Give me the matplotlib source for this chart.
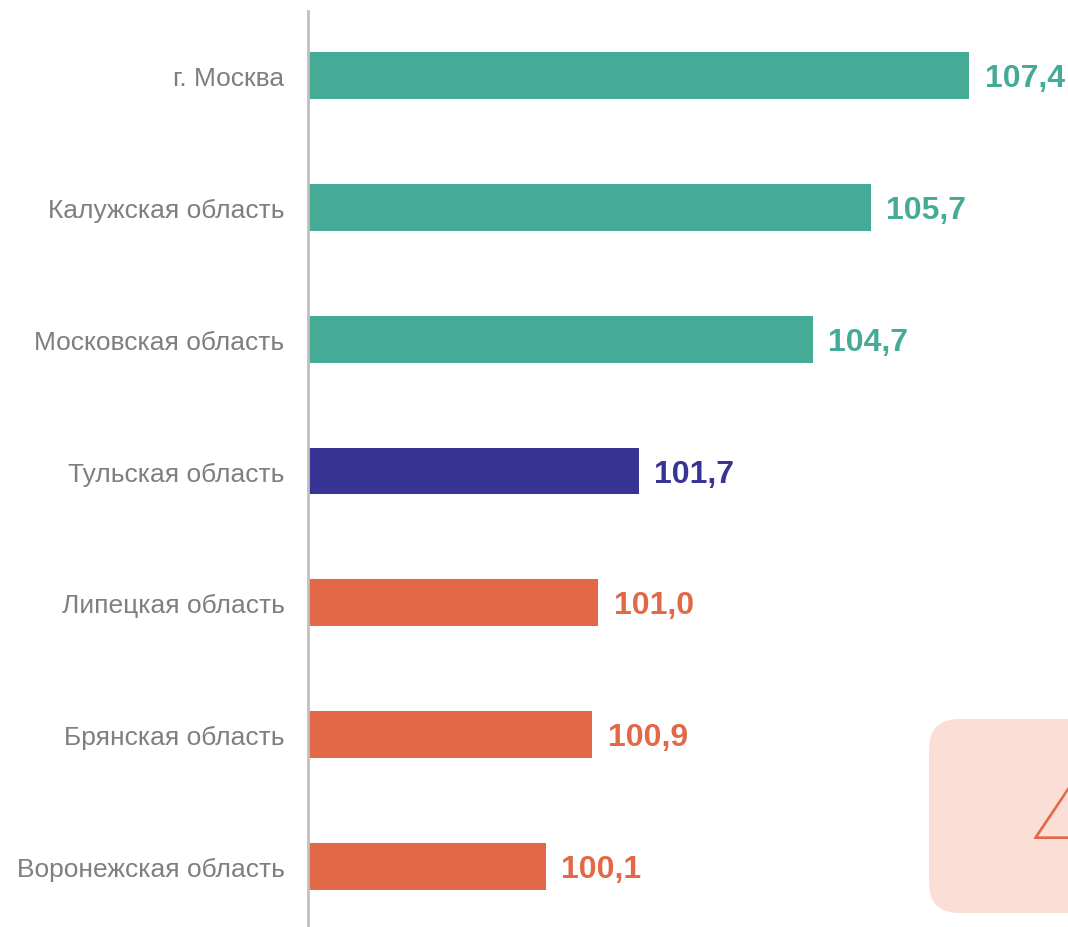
import matplotlib.pyplot as plt
from matplotlib.patches import FancyBboxPatch

regions = ['г. Москва', 'Калужская область', 'Московская область', 'Тульская область',
           'Липецкая область', 'Брянская область', 'Воронежская область']
values = [107.4, 105.7, 104.7, 101.7, 101.0, 100.9, 100.1]
colors = ['#45ab97', '#45ab97', '#45ab97', '#373494', '#e36847', '#e36847', '#e36847']
base = 96.0


def main():
    plt.rcParams['font.family'] = ['Liberation Sans', 'DejaVu Sans']
    fig = plt.figure(figsize=(10.68, 9.28), dpi=100)
    ax = fig.add_axes([308 / 1068, 0, 760 / 1068, 916 / 928])

    y = list(range(len(regions)))
    ax.barh(y, [v - base for v in values], left=base, height=0.355, color=colors)
    for i, v in enumerate(values):
        ax.text(v + 0.27, i + 0.02, f'{v:.1f}'.replace('.', ','), color=colors[i],
                fontsize=23, fontweight='bold', va='center', ha='left', clip_on=False)

    ax.set_xlim(base, base + 760 / 58)
    ax.set_ylim(6.46, -0.49)
    ax.set_yticks(y)
    ax.set_yticklabels(regions, fontsize=19, color='#7f7f7f')
    ax.tick_params(axis='y', length=0, pad=17)
    ax.set_xticks([])
    for s in ['top', 'right', 'bottom']:
        ax.spines[s].set_visible(False)
    ax.spines['left'].set_color('#c0c0c0')
    ax.spines['left'].set_linewidth(2)

    # decorative page-number box in lower right corner
    box = FancyBboxPatch((929, 14), 200, 194, boxstyle='round,pad=0,rounding_size=30',
                         transform=None, facecolor='#fbdfd7', edgecolor='none', zorder=0)
    fig.patches.append(box)
    fig.text(1030 / 1068, (928 - 858) / 928, '4', fontsize=72, color='#e36847',
             family=['Roboto', 'DejaVu Sans'], fontweight='light', ha='left', va='baseline')

    fig.savefig('out.png', dpi=100)


if __name__ == '__main__':
    main()
